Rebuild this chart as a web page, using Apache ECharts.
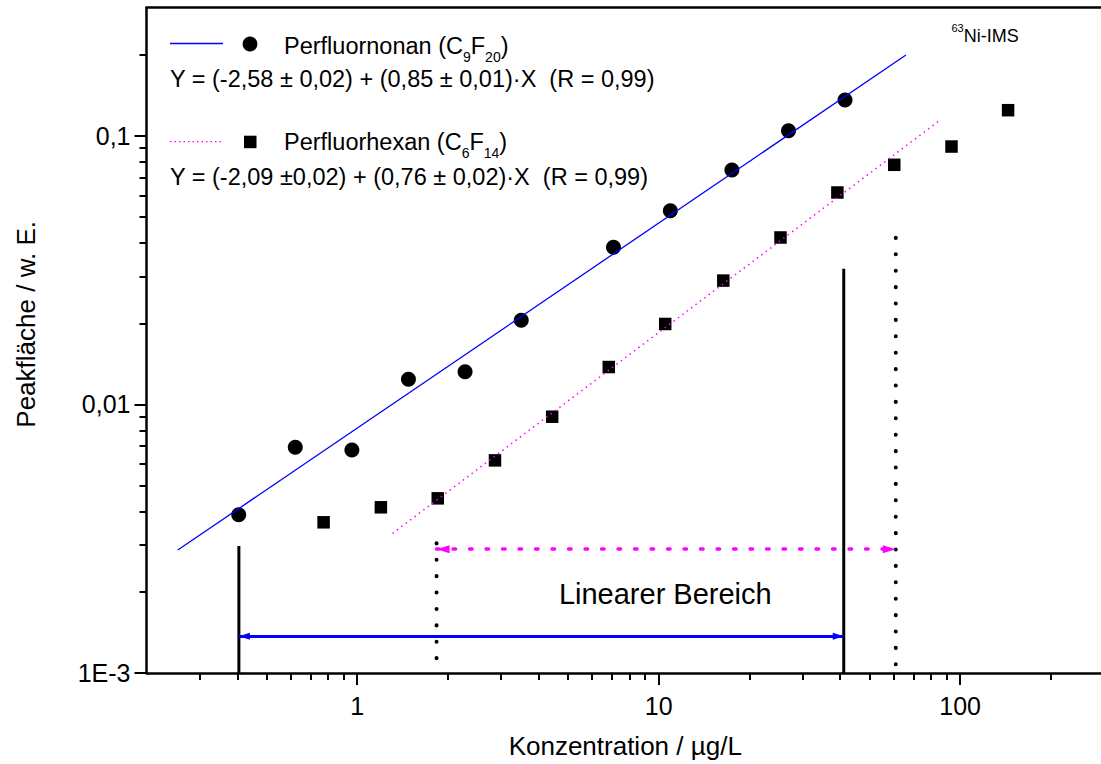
<!DOCTYPE html>
<html>
<head>
<meta charset="utf-8">
<title>Perfluornonan / Perfluorhexan – 63Ni-IMS</title>
<script src="https://cdn.jsdelivr.net/npm/echarts@6/dist/echarts.min.js"></script>
<style>
  html, body { margin: 0; padding: 0; overflow: hidden; background: #fff; }
  #chart { width: 1104px; height: 764px; }
</style>
</head>
<body>
<div id="chart"></div>
<script>
// Perfluornonan (C9F20): concentration (µg/L) and peak area (w. E.)
const nonanConc = [0.4045, 0.623, 0.960, 1.479, 2.279, 3.50, 7.08, 10.93, 17.49, 26.95, 41.5];
const nonanArea = [0.00388, 0.00692, 0.00676, 0.01242, 0.01323, 0.02058, 0.03844, 0.05263, 0.07457, 0.1044, 0.1361];

// Perfluorhexan (C6F14)
const hexanConc = [0.7735, 1.198, 1.850, 2.864, 4.433, 6.830, 10.51, 16.38, 25.35, 39.15, 60.45, 93.6, 144.2];
const hexanArea = [0.00364, 0.00414, 0.00447, 0.00619, 0.00900, 0.01378, 0.01993, 0.02891, 0.04184, 0.06153, 0.07801, 0.09124, 0.1246];

// Regression lines, start and end points
const fitBlueConc = [0.254, 66.1];
const fitBlueArea = [0.00287, 0.200];
const fitPinkConc = [1.31, 86.3];
const fitPinkArea = [0.00331, 0.115];

// Linear range limits: solid markers (C9F20), dotted markers (C6F14)
const limitSolidConc = [0.405, 41.1];
const limitSolidTop = [0.00297, 0.032];
const limitDottedConc = [1.833, 61.15];
const limitDottedTop = [0.00304, 0.0417];
const arrowBlueLevel = 0.00137;
const arrowPinkLevel = 0.00289;

// Axis ticks
const xMajorTicks = [1, 10, 100];
const xTickLabels = ['1', '10', '100'];
const xMinorTicks = [0.3, 0.4, 0.5, 0.6, 0.7, 0.8, 0.9, 2, 3, 4, 5, 6, 7, 8, 9,
                     20, 30, 40, 50, 60, 70, 80, 90, 200];
const yMajorTicks = [0.001, 0.01, 0.1];
const yTickLabels = ['1E-3', '0,01', '0,1'];
const yMinorTicks = [0.002, 0.003, 0.004, 0.005, 0.006, 0.007, 0.008, 0.009,
                     0.02, 0.03, 0.04, 0.05, 0.06, 0.07, 0.08, 0.09, 0.2];

const FONT = '"Liberation Sans", Arial, Helvetica, sans-serif';
const BLUE = '#0000ff';
const PINK = '#ff00ff';

function tickLabel(values, labels) {
  return function (v) {
    const i = values.findIndex(t => Math.abs(Math.log10(t) - Math.log10(v)) < 1e-6);
    return i >= 0 ? labels[i] : '';
  };
}
function pairs(xs, ys) { return xs.map((x, i) => [x, ys[i]]); }

const xRange = { type: 'log', logBase: 10, min: 0.2, max: 300 };
const yRange = { type: 'log', logBase: 10, min: 0.001, max: 0.3 };
const black = { color: '#000', opacity: 1 };

// vertical limit marker from the x axis up to a given height
function limitLine(x, top, dotted) {
  return {
    type: 'line', data: [[x, top], [x, yRange.min]], symbol: 'none', silent: true, z: 4,
    lineStyle: dotted
      ? { color: '#000', width: 4, type: [0.1, 16.3], cap: 'round', opacity: 1 }
      : { color: '#000', width: 3, opacity: 1 }
  };
}

const option = {
  animation: false,
  backgroundColor: '#fff',
  grid: { left: 146.5, right: 0, top: 7.7, bottom: 90 },
  xAxis: [
    Object.assign({}, xRange, {
      position: 'bottom',
      name: 'Konzentration / µg/L', nameLocation: 'middle', nameGap: 60,
      nameTextStyle: { fontSize: 26, fontFamily: FONT, color: '#000' },
      axisLine: { show: true, onZero: false, lineStyle: { color: '#000', width: 2.5 } },
      axisTick: { show: true, inside: false, length: 12, customValues: xMajorTicks, lineStyle: { color: '#000', width: 2 } },
      axisLabel: { customValues: xMajorTicks, formatter: tickLabel(xMajorTicks, xTickLabels),
                   fontSize: 25, fontFamily: FONT, color: '#000', margin: 20 },
      splitLine: { show: false }
    }),
    Object.assign({}, xRange, {
      position: 'bottom',
      axisLine: { show: false },
      axisTick: { show: true, length: 7, customValues: xMinorTicks, lineStyle: { color: '#000', width: 2 } },
      axisLabel: { show: false }, splitLine: { show: false }
    }),
    Object.assign({}, xRange, {
      position: 'top',
      axisLine: { show: true, onZero: false, lineStyle: { color: '#000', width: 2.5 } },
      axisTick: { show: false }, axisLabel: { show: false }, splitLine: { show: false }
    })
  ],
  yAxis: [
    Object.assign({}, yRange, {
      position: 'left',
      name: 'Peakfläche / w. E.', nameLocation: 'middle', nameGap: 108,
      nameTextStyle: { fontSize: 26, fontFamily: FONT, color: '#000', padding: [0, 0, 0, 32] },
      axisLine: { show: true, onZero: false, lineStyle: { color: '#000', width: 2.5 } },
      axisTick: { show: true, length: 12, customValues: yMajorTicks, lineStyle: { color: '#000', width: 2 } },
      axisLabel: { customValues: yMajorTicks, formatter: tickLabel(yMajorTicks, yTickLabels),
                   fontSize: 25, fontFamily: FONT, color: '#000', margin: 16 },
      splitLine: { show: false }
    }),
    Object.assign({}, yRange, {
      position: 'left',
      axisLine: { show: false },
      axisTick: { show: true, length: 7, customValues: yMinorTicks, lineStyle: { color: '#000', width: 2 } },
      axisLabel: { show: false }, splitLine: { show: false }
    })
  ],
  series: [
    {
      name: 'Perfluornonan (C9F20)', type: 'scatter', data: pairs(nonanConc, nonanArea),
      symbol: 'circle', symbolSize: 15, itemStyle: black, z: 2, silent: true
    },
    {
      name: 'Perfluorhexan (C6F14)', type: 'scatter', data: pairs(hexanConc, hexanArea),
      symbol: 'rect', symbolSize: 12.5, itemStyle: black, z: 2, silent: true
    },
    {
      type: 'line', data: pairs(fitBlueConc, fitBlueArea), symbol: 'none', silent: true, z: 5,
      lineStyle: { color: BLUE, width: 1.3, opacity: 1 },
      markLine: {
        silent: true, animation: false,
        symbol: ['triangle', 'triangle'], symbolSize: [7, 11],
        symbolOffset: [[0, 5.5], [0, 5.5]],
        label: { show: false },
        lineStyle: { color: BLUE, width: 3, type: 'solid', opacity: 1 },
        data: [[{ coord: [limitSolidConc[0], arrowBlueLevel] }, { coord: [limitSolidConc[1], arrowBlueLevel] }]]
      }
    },
    {
      type: 'line', data: pairs(fitPinkConc, fitPinkArea), symbol: 'none', silent: true, z: 5,
      lineStyle: { color: PINK, width: 1.5, type: [1.5, 4], opacity: 1 },
      markLine: {
        silent: true, animation: false,
        symbol: ['triangle', 'triangle'], symbolSize: [8, 13],
        symbolOffset: [[0, 6.5], [0, 6.5]],
        label: { show: false },
        lineStyle: { color: PINK, width: 3.5, type: [2.5, 14], cap: 'round', opacity: 1 },
        data: [[{ coord: [limitDottedConc[0], arrowPinkLevel] }, { coord: [limitDottedConc[1], arrowPinkLevel] }]]
      }
    },
    limitLine(limitSolidConc[0], limitSolidTop[0], false),
    limitLine(limitSolidConc[1], limitSolidTop[1], false),
    limitLine(limitDottedConc[0], limitDottedTop[0], true),
    limitLine(limitDottedConc[1], limitDottedTop[1], true)
  ],
  graphic: [
    // legend entry: Perfluornonan
    { type: 'line', silent: true, shape: { x1: 170, y1: 43.5, x2: 223, y2: 43.5 }, style: { stroke: BLUE, lineWidth: 1.3 } },
    { type: 'circle', silent: true, shape: { cx: 250, cy: 44, r: 7.4 }, style: { fill: '#000' } },
    { type: 'text', silent: true, x: 284, y: 46,
      style: { text: 'Perfluornonan (C{s|9}F{s|20})', fontSize: 23.5, fontFamily: FONT, fill: '#000',
               verticalAlign: 'middle',
               rich: { s: { fontSize: 14, fontFamily: FONT, fill: '#000', padding: [22, 0, 0, 0] } } } },
    { type: 'text', silent: true, x: 170, y: 79,
      style: { text: 'Y = (-2,58 \u00b1 0,02) + (0,85 \u00b1 0,01)\u00b7X  (R = 0,99)', fontSize: 23.5,
               fontFamily: FONT, fill: '#000', verticalAlign: 'middle' } },
    // legend entry: Perfluorhexan
    { type: 'line', silent: true, shape: { x1: 170, y1: 141.7, x2: 223, y2: 141.7 },
      style: { stroke: PINK, lineWidth: 1.3, lineDash: [1.5, 3] } },
    { type: 'rect', silent: true, shape: { x: 244, y: 135.7, width: 12.5, height: 12.5 }, style: { fill: '#000' } },
    { type: 'text', silent: true, x: 284, y: 141.7,
      style: { text: 'Perfluorhexan (C{s|6}F{s|14})', fontSize: 23.5, fontFamily: FONT, fill: '#000',
               verticalAlign: 'middle',
               rich: { s: { fontSize: 14, fontFamily: FONT, fill: '#000', padding: [22, 0, 0, 0] } } } },
    { type: 'text', silent: true, x: 170, y: 176.7,
      style: { text: 'Y = (-2,09 \u00b10,02) + (0,76 \u00b1 0,02)\u00b7X  (R = 0,99)', fontSize: 23.5,
               fontFamily: FONT, fill: '#000', verticalAlign: 'middle' } },
    // instrument label
    { type: 'text', silent: true, x: 951.5, y: 35.5,
      style: { text: '{p|63}Ni-IMS', fontSize: 18, fontFamily: FONT, fill: '#000', verticalAlign: 'middle',
               rich: { p: { fontSize: 11, fontFamily: FONT, fill: '#000', padding: [0, 0, 15, 0] } } } },
    // range caption
    { type: 'text', silent: true, x: 665.3, y: 594,
      style: { text: 'Linearer Bereich', fontSize: 29, fontFamily: FONT, fill: '#000',
               align: 'center', verticalAlign: 'middle' } }
  ]
};

const chart = echarts.init(document.getElementById('chart'), null, { renderer: 'svg' });
chart.setOption(option);
</script>
</body>
</html>
